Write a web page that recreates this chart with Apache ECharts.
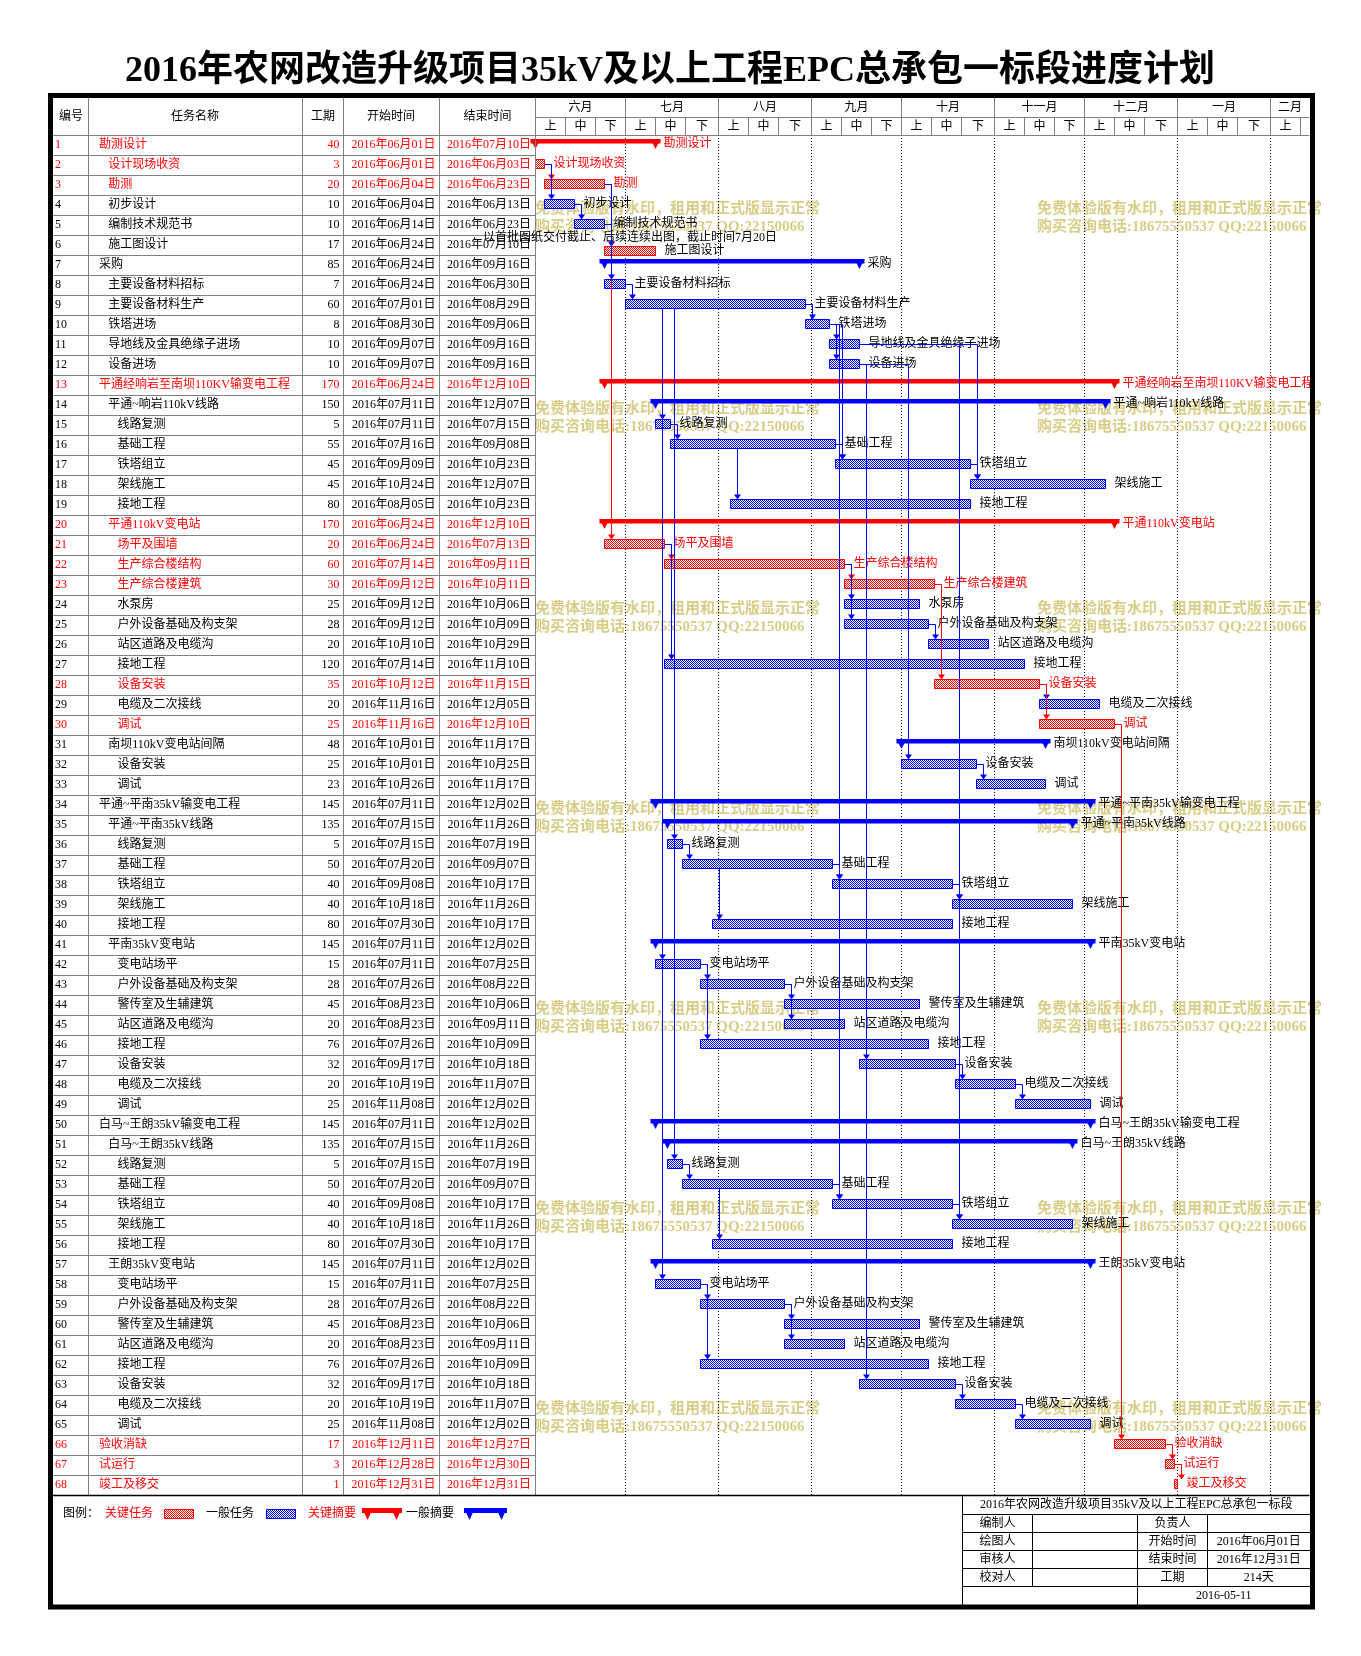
<!DOCTYPE html>
<html><head><meta charset="utf-8">
<script src="https://cdn.jsdelivr.net/npm/echarts@6/dist/echarts.min.js"></script>
<style>html,body{margin:0;padding:0;background:#fff}#c{width:1361px;height:1656px}</style>
</head><body><div id="c"></div>
<script>
// ---------------- DATA ----------------
const taskNames = ['勘测设计','设计现场收资','勘测','初步设计','编制技术规范书','施工图设计','采购','主要设备材料招标','主要设备材料生产','铁塔进场',
'导地线及金具绝缘子进场','设备进场','平通经响岩至南坝110KV输变电工程','平通~响岩110kV线路','线路复测','基础工程','铁塔组立','架线施工','接地工程','平通110kV变电站',
'场平及围墙','生产综合楼结构','生产综合楼建筑','水泵房','户外设备基础及构支架','站区道路及电缆沟','接地工程','设备安装','电缆及二次接线','调试',
'南坝110kV变电站间隔','设备安装','调试','平通~平南35kV输变电工程','平通~平南35kV线路','线路复测','基础工程','铁塔组立','架线施工','接地工程',
'平南35kV变电站','变电站场平','户外设备基础及构支架','警传室及生辅建筑','站区道路及电缆沟','接地工程','设备安装','电缆及二次接线','调试','白马~王朗35kV输变电工程',
'白马~王朗35kV线路','线路复测','基础工程','铁塔组立','架线施工','接地工程','王朗35kV变电站','变电站场平','户外设备基础及构支架','警传室及生辅建筑',
'站区道路及电缆沟','接地工程','设备安装','电缆及二次接线','调试','验收消缺','试运行','竣工及移交'];
const taskLevels = [1,2,2,2,2,2,1,2,2,2, 2,2,1,2,3,3,3,3,3,2, 3,3,3,3,3,3,3,3,3,3, 2,3,3,1,2,3,3,3,3,3, 2,3,3,3,3,3,3,3,3,1, 2,3,3,3,3,3,2,3,3,3, 3,3,3,3,3,1,1,1];
const taskDurations = [40,3,20,10,10,17,85,7,60,8, 10,10,170,150,5,55,45,45,80,170, 20,60,30,25,28,20,120,35,20,25, 48,25,23,145,135,5,50,40,40,80, 145,15,28,45,20,76,32,20,25,145, 135,5,50,40,40,80,145,15,28,45, 20,76,32,20,25,17,3,1];
const taskStarts = ['2016-06-01','2016-06-01','2016-06-04','2016-06-04','2016-06-14','2016-06-24','2016-06-24','2016-06-24','2016-07-01','2016-08-30',
'2016-09-07','2016-09-07','2016-06-24','2016-07-11','2016-07-11','2016-07-16','2016-09-09','2016-10-24','2016-08-05','2016-06-24',
'2016-06-24','2016-07-14','2016-09-12','2016-09-12','2016-09-12','2016-10-10','2016-07-14','2016-10-12','2016-11-16','2016-11-16',
'2016-10-01','2016-10-01','2016-10-26','2016-07-11','2016-07-15','2016-07-15','2016-07-20','2016-09-08','2016-10-18','2016-07-30',
'2016-07-11','2016-07-11','2016-07-26','2016-08-23','2016-08-23','2016-07-26','2016-09-17','2016-10-19','2016-11-08','2016-07-11',
'2016-07-15','2016-07-15','2016-07-20','2016-09-08','2016-10-18','2016-07-30','2016-07-11','2016-07-11','2016-07-26','2016-08-23',
'2016-08-23','2016-07-26','2016-09-17','2016-10-19','2016-11-08','2016-12-11','2016-12-28','2016-12-31'];
const taskEnds = ['2016-07-10','2016-06-03','2016-06-23','2016-06-13','2016-06-23','2016-07-10','2016-09-16','2016-06-30','2016-08-29','2016-09-06',
'2016-09-16','2016-09-16','2016-12-10','2016-12-07','2016-07-15','2016-09-08','2016-10-23','2016-12-07','2016-10-23','2016-12-10',
'2016-07-13','2016-09-11','2016-10-11','2016-10-06','2016-10-09','2016-10-29','2016-11-10','2016-11-15','2016-12-05','2016-12-10',
'2016-11-17','2016-10-25','2016-11-17','2016-12-02','2016-11-26','2016-07-19','2016-09-07','2016-10-17','2016-11-26','2016-10-17',
'2016-12-02','2016-07-25','2016-08-22','2016-10-06','2016-09-11','2016-10-09','2016-10-18','2016-11-07','2016-12-02','2016-12-02',
'2016-11-26','2016-07-19','2016-09-07','2016-10-17','2016-11-26','2016-10-17','2016-12-02','2016-07-25','2016-08-22','2016-10-06',
'2016-09-11','2016-10-09','2016-10-18','2016-11-07','2016-12-02','2016-12-27','2016-12-30','2016-12-31'];
const criticalRows = [1,2,3,13,20,21,22,23,28,30,66,67,68];
const redBarRows = [1,2,3,6,13,20,21,22,23,28,30,66,67,68];
const summaryRows = [1,7,13,14,20,31,34,35,41,50,51,57];
// [predecessor, successor, critical(1)/normal(0)]
const links = [
 [2,3,1],[2,4,0],[4,5,0],[3,6,1],[3,21,1],[5,6,0],[3,8,0],
 [8,9,0],[9,10,0],[10,11,0],[10,12,0],
 [9,15,0],[15,16,0],[16,17,0],[17,18,0],[16,19,0],[10,17,0],[11,18,0],
 [21,22,1],[22,23,1],[22,24,0],[22,25,0],[25,26,0],[21,27,0],[23,28,1],[28,29,0],[28,30,1],
 [12,32,0],[32,33,0],
 [9,36,0],[36,37,0],[37,38,0],[38,39,0],[37,40,0],[10,38,0],[11,39,0],
 [9,42,0],[42,43,0],[43,44,0],[43,45,0],[42,46,0],[12,47,0],[47,48,0],[48,49,0],
 [9,52,0],[52,53,0],[53,54,0],[54,55,0],[53,56,0],[10,54,0],[11,55,0],
 [9,58,0],[58,59,0],[59,60,0],[59,61,0],[58,62,0],[12,63,0],[63,64,0],[64,65,0],
 [30,66,1],[66,67,1],[67,68,1]
];
const monthLabels = ['六月','七月','八月','九月','十月','十一月','十二月','一月','二月'];
const monthBounds = ['2016-06-01','2016-07-01','2016-08-01','2016-09-01','2016-10-01','2016-11-01','2016-12-01','2017-01-01','2017-02-01','2017-02-11'];
const xunLabels = ['上','中','下'];
const tableHeaders = ['编号','任务名称','工期','开始时间','结束时间'];
const chartTitle = '2016年农网改造升级项目35kV及以上工程EPC总承包一标段进度计划';
const noteText = '以首批图纸交付截止、后续连续出图，截止时间7月20日';
const noteRow = 6;
const legendTexts = ['图例：','关键任务','一般任务','关键摘要','一般摘要'];
const blockTitle = '2016年农网改造升级项目35kV及以上工程EPC总承包一标段';
const blockRows = [['编制人','','负责人',''],['绘图人','','开始时间','2016年06月01日'],['审核人','','结束时间','2016年12月31日'],['校对人','','工期','214天']];
const blockDate = '2016-05-11';
const watermark1 = '免费体验版有水印，租用和正式版显示正常';
const watermark2 = '购买咨询电话:18675550537 QQ:22150066';

// ---------------- HELPERS ----------------
const FONT = "'Liberation Serif','Noto Sans CJK SC',serif";
const BASE = Date.UTC(2016,5,1);
function dayIdx(s){const p=s.split('-').map(Number);return Math.round((Date.UTC(p[0],p[1]-1,p[2])-BASE)/86400000);}
function fmt(s){return s.slice(0,4)+'年'+s.slice(5,7)+'月'+s.slice(8,10)+'日';}
function pattern(color){const c=document.createElement('canvas');c.width=2;c.height=2;const g=c.getContext('2d');g.fillStyle='#fff';g.fillRect(0,0,2,2);g.fillStyle=color;g.fillRect(0,0,1,1);g.fillRect(1,1,1,1);return {image:c,repeat:'repeat'};}
const patRed = pattern('#ff0000'), patBlue = pattern('#0000ff');
const isCrit = i => criticalRows.indexOf(i+1) >= 0;
const shiftOf = i => (i+1 === noteRow ? 7 : 0);   // bar under the note sits a little lower
const GRAY = '#808080';
const txt = (text,x,y,fill,align,size,extra) => ({type:'text',style:Object.assign({text:text,x:x,y:y,fill:fill,align:align||'left',verticalAlign:'middle',fontSize:size||12,fontFamily:FONT},extra||{})});

const N = taskNames.length;
const rowIds = taskNames.map((_,i)=>String(i+1));
const tableData = taskNames.map((_,i)=>[i,0]);
const barData = taskNames.map((_,i)=>[i, dayIdx(taskStarts[i]), dayIdx(taskEnds[i])+1]);
const linkData = links.map(l=>[l[0]-1, l[1]-1, dayIdx(taskEnds[l[0]-1])+1, dayIdx(taskStarts[l[1]-1]), l[2]]);
const monthData = monthLabels.map((m,k)=>[dayIdx(monthBounds[k]), dayIdx(monthBounds[k+1]), 0]);
const AXMAX = dayIdx(monthBounds[monthBounds.length-1]);

const HTOP = 97.5, HMID = 117.5, HBOT = 135, TBOT = 1495;
const colLines = [88.5, 302.5, 343.5, 439.5, 535.5];
const colCenters = [71, 195, 323, 391, 487.5];
const RIGHT = 1309.5;

function renderTable(params, api){
  const i = api.value(0);
  const y = api.coord([0,i])[1];
  const c = isCrit(i) ? '#ff0000' : '#000000';
  const ch = [
    txt(String(i+1),55,y,c,'left'),
    txt(taskNames[i],99+9.3*(taskLevels[i]-1),y,c,'left'),
    txt(String(taskDurations[i]),339.5,y,c,'right'),
    txt(fmt(taskStarts[i]),435.5,y,c,'right'),
    txt(fmt(taskEnds[i]),531,y,c,'right')
  ];
  if (i < N-1) ch.push({type:'line',shape:{x1:53,y1:y+10.5,x2:535.5,y2:y+10.5},style:{stroke:GRAY,lineWidth:1}});
  return {type:'group',children:ch};
}

function renderBar(params, api){
  const i = api.value(0);
  const p0 = api.coord([api.value(1), i]);
  const p1 = api.coord([api.value(2), i]);
  const x0 = p0[0], x1 = p1[0], cy = p0[1] + shiftOf(i);
  const col = redBarRows.indexOf(i+1) >= 0 ? '#ff0000' : '#0000ff';
  const lab = isCrit(i) ? '#ff0000' : '#000000';
  const ch = [];
  if (summaryRows.indexOf(i+1) >= 0) {
    ch.push({type:'rect',shape:{x:x0-5,y:cy-6,width:x1-x0+10,height:4.5},style:{fill:col}});
    ch.push({type:'polygon',shape:{points:[[x0-5,cy-6],[x0+5,cy-6],[x0,cy+4]]},style:{fill:col}});
    ch.push({type:'polygon',shape:{points:[[x1-5,cy-6],[x1+5,cy-6],[x1,cy+4]]},style:{fill:col}});
    ch.push(txt(taskNames[i],x1+8,cy-1,lab,'left'));
  } else {
    ch.push({type:'rect',shape:{x:x0,y:cy-5.5,width:Math.max(x1-x0,2),height:9},style:{fill:col==='#ff0000'?patRed:patBlue,stroke:col,lineWidth:1}});
    ch.push(txt(taskNames[i],x1+9,cy-1,lab,'left'));
  }
  return {type:'group',children:ch};
}

function renderLink(params, api){
  const a = api.value(0), b = api.value(1);
  const pe = api.coord([api.value(2), a]);
  const ss = api.coord([api.value(3), b]);
  const py = pe[1] + shiftOf(a), sy = ss[1] + shiftOf(b);
  const col = api.value(4) ? '#ff0000' : '#0000ff';
  const vx = ss[0] + 7;
  const top = sy - 5.5;
  let pts;
  if (pe[0] < vx) pts = [[pe[0], py-0.5],[vx, py-0.5],[vx, top-4]];
  else pts = [[vx, py+3.5],[vx, top-4]];
  return {type:'group',children:[
    {type:'polyline',shape:{points:pts},style:{stroke:col,lineWidth:1,fill:null}},
    {type:'polygon',shape:{points:[[vx-3.5,top-5],[vx+3.5,top-5],[vx,top]]},style:{fill:col}}
  ]};
}

function renderMonth(params, api){
  const k = params.dataIndex;
  const s = api.value(0), e = api.value(1);
  const x0 = api.coord([s,0])[0], x1 = api.coord([e,0])[0];
  const last = k === monthLabels.length-1;
  const ch = [];
  ch.push(txt(monthLabels[k], last ? (x0+RIGHT)/2 : (x0+x1)/2, 107.5, '#000', 'center'));
  if (!last) ch.push({type:'line',shape:{x1:x1,y1:HTOP,x2:x1,y2:HBOT},style:{stroke:GRAY,lineWidth:1}});
  const bounds = [s];
  [s+10, s+20, e].forEach(v=>{ if (v <= e && v > bounds[bounds.length-1]) bounds.push(v); });
  for (let j=0;j<bounds.length-1;j++){
    const a = api.coord([bounds[j],0])[0], b = api.coord([bounds[j+1],0])[0];
    ch.push(txt(xunLabels[j],(a+b)/2,126.5,'#000','center'));
    ch.push({type:'line',shape:{x1:b,y1:HMID,x2:b,y2:HBOT},style:{stroke:GRAY,lineWidth:1}});
  }
  if (k > 0) ch.push({type:'line',shape:{x1:x0,y1:HBOT,x2:x0,y2:TBOT},style:{stroke:'#000',lineWidth:1,lineDash:[1,2]}});
  return {type:'group',children:ch};
}

// ---------------- GRAPHICS (frame, title, legend, block) ----------------
const G = [];
G.push({type:'text',z:20,style:{text:chartTitle,x:670,y:72,align:'center',verticalAlign:'middle',fontSize:36,fontWeight:'bold',fontFamily:FONT,fill:'#000'}});
for (let k=0;k<7;k++){
  const y1 = 209 + 200*k;
  [535,1037].forEach(x=>{
    G.push({type:'text',z:1,style:{text:watermark1,x:x,y:y1,align:'left',verticalAlign:'middle',fontSize:15,fontWeight:'bold',fontFamily:FONT,fill:'#d8cd87'}});
    G.push({type:'text',z:1,style:{text:watermark2,x:x,y:y1+18,align:'left',verticalAlign:'middle',fontSize:15,fontWeight:'bold',fontFamily:FONT,fill:'#d8cd87'}});
  });
}
tableHeaders.forEach((h,k)=>G.push(Object.assign(txt(h,colCenters[k],116.5,'#000','center'),{z:20})));
colLines.forEach(x=>G.push({type:'line',z:20,shape:{x1:x,y1:HTOP,x2:x,y2:TBOT},style:{stroke:GRAY,lineWidth:1}}));
G.push({type:'line',z:20,shape:{x1:535.5,y1:HMID,x2:RIGHT,y2:HMID},style:{stroke:GRAY,lineWidth:1}});
G.push({type:'line',z:20,shape:{x1:53,y1:HBOT+0.5,x2:RIGHT,y2:HBOT+0.5},style:{stroke:GRAY,lineWidth:1}});
G.push({type:'line',z:20,shape:{x1:53,y1:TBOT+0.5,x2:RIGHT,y2:TBOT+0.5},style:{stroke:'#000',lineWidth:1.5}});
G.push(Object.assign(txt(noteText,483,237.5,'#000','left'),{z:20}));
const LY = 1514;
G.push(Object.assign(txt(legendTexts[0],63,LY,'#000'),{z:20}));
G.push(Object.assign(txt(legendTexts[1],105,LY,'#ff0000'),{z:20}));
G.push({type:'rect',z:20,shape:{x:164.5,y:1509.5,width:29,height:9},style:{fill:patRed,stroke:'#ff0000',lineWidth:1}});
G.push(Object.assign(txt(legendTexts[2],206,LY,'#000'),{z:20}));
G.push({type:'rect',z:20,shape:{x:266.5,y:1509.5,width:29,height:9},style:{fill:patBlue,stroke:'#0000ff',lineWidth:1}});
G.push(Object.assign(txt(legendTexts[3],308,LY,'#ff0000'),{z:20}));
function sumIcon(x0,x1,col){
  G.push({type:'rect',z:20,shape:{x:x0,y:1508,width:x1-x0,height:5},style:{fill:col}});
  G.push({type:'polygon',z:20,shape:{points:[[x0,1508],[x0+11,1508],[x0+5.5,1520]]},style:{fill:col}});
  G.push({type:'polygon',z:20,shape:{points:[[x1-11,1508],[x1,1508],[x1-5.5,1520]]},style:{fill:col}});
}
sumIcon(362,402,'#ff0000');
G.push(Object.assign(txt(legendTexts[4],406,LY,'#000'),{z:20}));
sumIcon(464,507,'#0000ff');
const BX = [962.5,1032.5,1137.5,1207.5,1310];
const BY = [1496,1514.5,1532.5,1550.5,1568.5,1586.5,1605];
G.push({type:'line',z:20,shape:{x1:BX[0],y1:BY[0],x2:BX[0],y2:BY[6]},style:{stroke:'#000',lineWidth:1}});
for (let r=1;r<=5;r++) G.push({type:'line',z:20,shape:{x1:BX[0],y1:BY[r],x2:BX[4],y2:BY[r]},style:{stroke:'#000',lineWidth:1}});
[BX[1],BX[3]].forEach(x=>G.push({type:'line',z:20,shape:{x1:x,y1:BY[1],x2:x,y2:BY[5]},style:{stroke:'#000',lineWidth:1}}));
G.push({type:'line',z:20,shape:{x1:BX[2],y1:BY[1],x2:BX[2],y2:BY[6]},style:{stroke:'#000',lineWidth:1}});
G.push(Object.assign(txt(blockTitle,(BX[0]+BX[4])/2,(BY[0]+BY[1])/2,'#000','center'),{z:20}));
blockRows.forEach((row,r)=>{
  const yc = (BY[r+1]+BY[r+2])/2;
  row.forEach((t,c)=>{ if(t) G.push(Object.assign(txt(t,(BX[c]+BX[c+1])/2,yc,'#000','center'),{z:20})); });
});
G.push(Object.assign(txt(blockDate,(BX[2]+BX[4])/2,(BY[5]+BY[6])/2,'#000','center'),{z:20}));
G.push({type:'rect',z:30,shape:{x:50.5,y:95.5,width:1262,height:1511.5},style:{fill:null,stroke:'#000',lineWidth:5}});

// ---------------- CHART ----------------
const chart = echarts.init(document.getElementById('c'), null, {renderer:'canvas'});
chart.setOption({
  animation:false,
  backgroundColor:'#ffffff',
  grid:{left:535.5,top:135,width:765,height:1360,containLabel:false,show:false},
  xAxis:{type:'value',min:0,max:AXMAX,show:false},
  yAxis:{type:'category',data:rowIds,inverse:true,show:false},
  graphic:{elements:G},
  series:[
    {type:'custom',name:'header',z:3,clip:false,data:monthData,encode:{x:[0,1],y:2},renderItem:renderMonth,silent:true},
    {type:'custom',name:'table',z:3,clip:false,data:tableData,encode:{x:1,y:0},renderItem:renderTable,silent:true},
    {type:'custom',name:'bars',z:4,clip:false,data:barData,encode:{x:[1,2],y:0},renderItem:renderBar,silent:true},
    {type:'custom',name:'links',z:5,clip:false,data:linkData,encode:{x:[2,3],y:[0,1]},renderItem:renderLink,silent:true}
  ]
});
</script></body></html>
